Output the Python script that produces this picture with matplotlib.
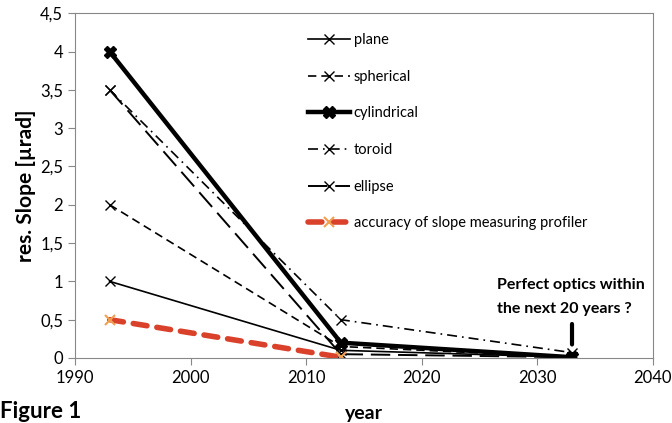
import matplotlib.pyplot as plt
from matplotlib.ticker import FuncFormatter

plt.rcParams['font.family'] = ['Lato', 'DejaVu Sans']

years = [1993, 2013, 2033]
plane = [1.0, 0.1, 0.01]
spherical = [2.0, 0.15, 0.01]
cylindrical = [4.0, 0.2, 0.01]
toroid = [3.5, 0.5, 0.07]
ellipse = [3.5, 0.05, 0.01]
acc_years = [1993, 2013]
accuracy = [0.5, 0.01]

fig = plt.figure(figsize=(6.72, 4.23), dpi=100)
ax = fig.add_axes([0.1116, 0.1537, 0.86, 0.815])

ax.plot(years, plane, color='black', lw=1.2, marker='x', ms=7, label='plane')
ax.plot(years, spherical, color='black', lw=1.2, ls=(0, (5, 3)), marker='x', ms=7, label='spherical')
ax.plot(years, cylindrical, color='black', lw=3.2, marker='X', ms=9, label='cylindrical')
ax.plot(years, toroid, color='black', lw=1.2, ls=(0, (6, 3, 1, 3)), marker='x', ms=7, label='toroid')
ax.plot(years, ellipse, color='black', lw=1.4, ls=(0, (10, 4)), marker='x', ms=7, label='ellipse')
ax.plot(acc_years, accuracy, color='#d9412b', lw=4, ls=(0, (2.5, 1.8)), dash_capstyle='round',
        marker='x', ms=7, mec='#f0a050', mew=1.5, label='accuracy of slope measuring profiler')

ax.set_xlim(1990, 2040)
ax.set_ylim(0, 4.5)
ax.set_xticks(range(1990, 2041, 10))
ax.set_yticks([i * 0.5 for i in range(10)])
ax.yaxis.set_major_formatter(FuncFormatter(lambda v, p: ('%g' % v).replace('.', ',')))
ax.tick_params(labelsize=12, color='#888888', length=5)
for s in ax.spines.values():
    s.set_color('#888888')

ax.set_xlabel('year', fontsize=14, fontweight='bold', labelpad=14)
ax.set_ylabel('res. Slope [µrad]', fontsize=15, fontweight='bold', labelpad=3)

ax.legend(loc='upper left', bbox_to_anchor=(0.38, 0.98), frameon=False, fontsize=10.5,
          handlelength=2.9, labelspacing=1.55, handletextpad=0.25)

ax.annotate('', xy=(2033, 0.14), xytext=(2033, 0.48),
            arrowprops=dict(arrowstyle='-', lw=3, color='black'))
ax.text(2026.5, 1.04, 'Perfect optics within\nthe next 20 years ?', fontsize=11.5,
        fontweight='bold', linespacing=1.9, va='top', ha='left')

fig.text(0.0, 0.003, 'Figure 1', fontsize=16, fontweight='bold', va='bottom')

fig.savefig('out.png', dpi=100)
